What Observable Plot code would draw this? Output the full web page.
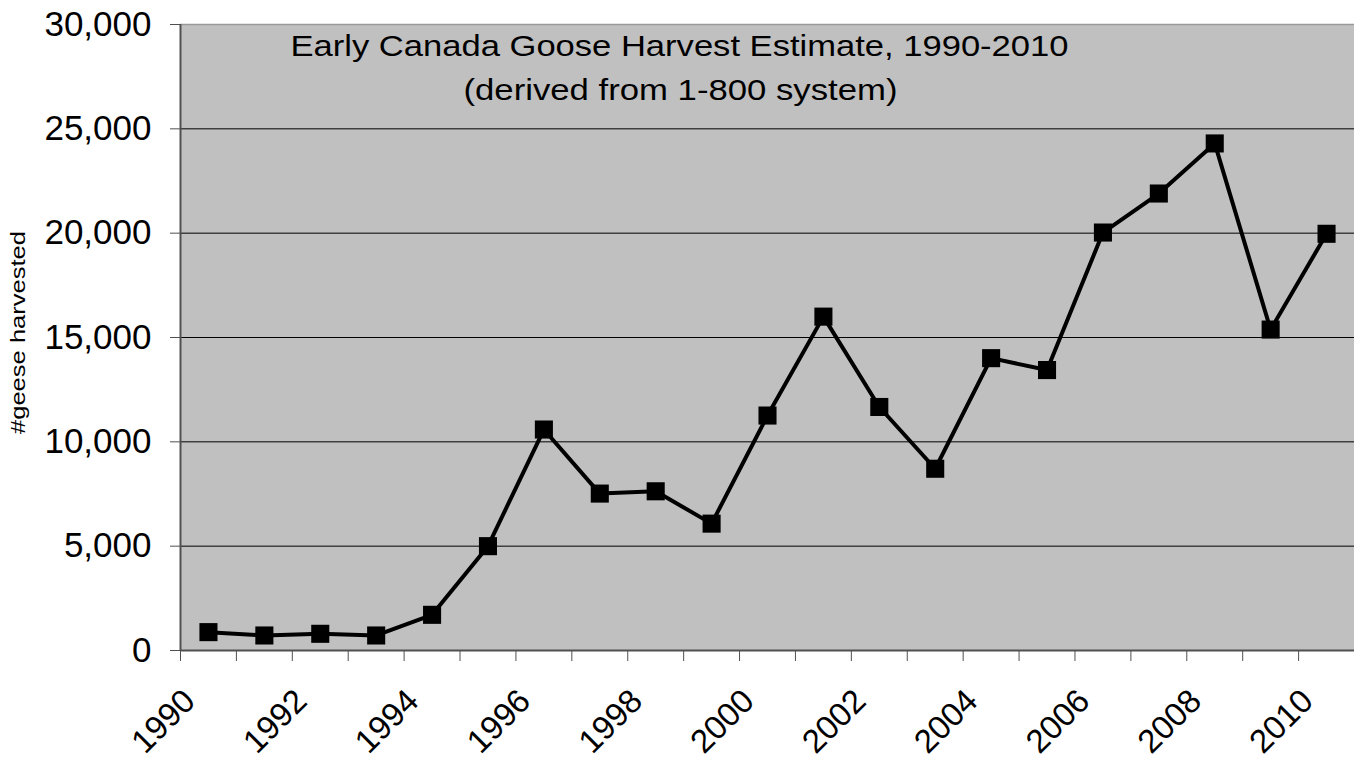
<!DOCTYPE html>
<html>
<head>
<meta charset="utf-8">
<script src="https://cdn.jsdelivr.net/npm/d3@7"></script>
<script src="https://cdn.jsdelivr.net/npm/@observablehq/plot@0.6"></script>
<style>
  html, body { margin: 0; padding: 0; background: #fff; }
  #chart svg { display: block; }
</style>
</head>
<body>
<div id="chart"></div>
<script>
const years = [1990,1991,1992,1993,1994,1995,1996,1997,1998,1999,2000,2001,2002,2003,2004,2005,2006,2007,2008,2009,2010];
const harvest = [880,720,800,720,1710,5000,10590,7520,7630,6080,11260,16000,11670,8710,14010,13440,20030,21900,24300,15380,19970];
const labelYears = [1990,1992,1994,1996,1998,2000,2002,2004,2006,2008,2010];
const yTicks = [0,5000,10000,15000,20000,25000,30000];
const gridValues = [5000,10000,15000,20000,25000];
const titleLines = ["Early Canada Goose Harvest Estimate, 1990-2010", "(derived from 1-800 system)"];
const yLabel = "#geese harvested";

const data = years.map((y, i) => ({year: y, value: harvest[i]}));
const boundaries = years.map(y => y - 0.5).concat([years[years.length - 1] + 0.5]);

const font = "Liberation Sans, Arial, sans-serif";

const chart = Plot.plot({
  width: 1354,
  height: 765,
  marginLeft: 180,
  marginRight: 0,
  marginTop: 24,
  marginBottom: 115,
  style: {fontFamily: font, background: "#fff"},
  x: {type: "linear", domain: [1989.5, 2010.5]},
  y: {domain: [0, 30000]},
  marks: [
    Plot.frame({fill: "#c0c0c0", stroke: null}),
    Plot.ruleY(gridValues, {stroke: "#000", strokeWidth: 1}),
    Plot.ruleY([30000], {stroke: "#9a9a9a", strokeWidth: 1.5}),
    Plot.ruleX([1989.5], {stroke: "#505050", strokeWidth: 2}),
    Plot.ruleY([0], {stroke: "#505050", strokeWidth: 2}),
    Plot.axisY({ticks: yTicks, tickFormat: d3.format(","), tickSize: 10, tickPadding: 19, fontSize: 35, stroke: "#505050", label: null}),
    Plot.axisX({ticks: boundaries, tickFormat: () => "", tickSize: 11, stroke: "#505050", label: null}),
    Plot.text(labelYears, {x: d => d, frameAnchor: "bottom", text: d => String(d), rotate: -45, textAnchor: "end", lineAnchor: "middle", dx: -19, dy: 45, fontSize: 33, fill: "#000", className: "xlab"}),
    Plot.line(data, {x: "year", y: "value", stroke: "#000", strokeWidth: 4}),
    Plot.dot(data, {x: "year", y: "value", symbol: "square", r: 10.2, fill: "#000", stroke: null}),
    Plot.text([titleLines[0]], {frameAnchor: "top-left", text: d => d, dx: 499, dy: 22, textAnchor: "middle", lineAnchor: "middle", fontSize: 30, fill: "#000", className: "title1"}),
    Plot.text([titleLines[1]], {frameAnchor: "top-left", text: d => d, dx: 500, dy: 66, textAnchor: "middle", lineAnchor: "middle", fontSize: 30, fill: "#000", className: "title2"}),
    Plot.text([yLabel], {frameAnchor: "left", text: d => d, dx: -162, dy: -5, rotate: -90, textAnchor: "middle", lineAnchor: "middle", fontSize: 20, fill: "#000", className: "ylab"})
  ]
});

const svg = d3.select(chart);
svg.select(".title1 text").attr("textLength", 778).attr("lengthAdjust", "spacingAndGlyphs");
svg.select(".title2 text").attr("textLength", 434).attr("lengthAdjust", "spacingAndGlyphs");
svg.select(".ylab text").attr("textLength", 203).attr("lengthAdjust", "spacingAndGlyphs");

document.getElementById("chart").appendChild(chart);
</script>
</body>
</html>
